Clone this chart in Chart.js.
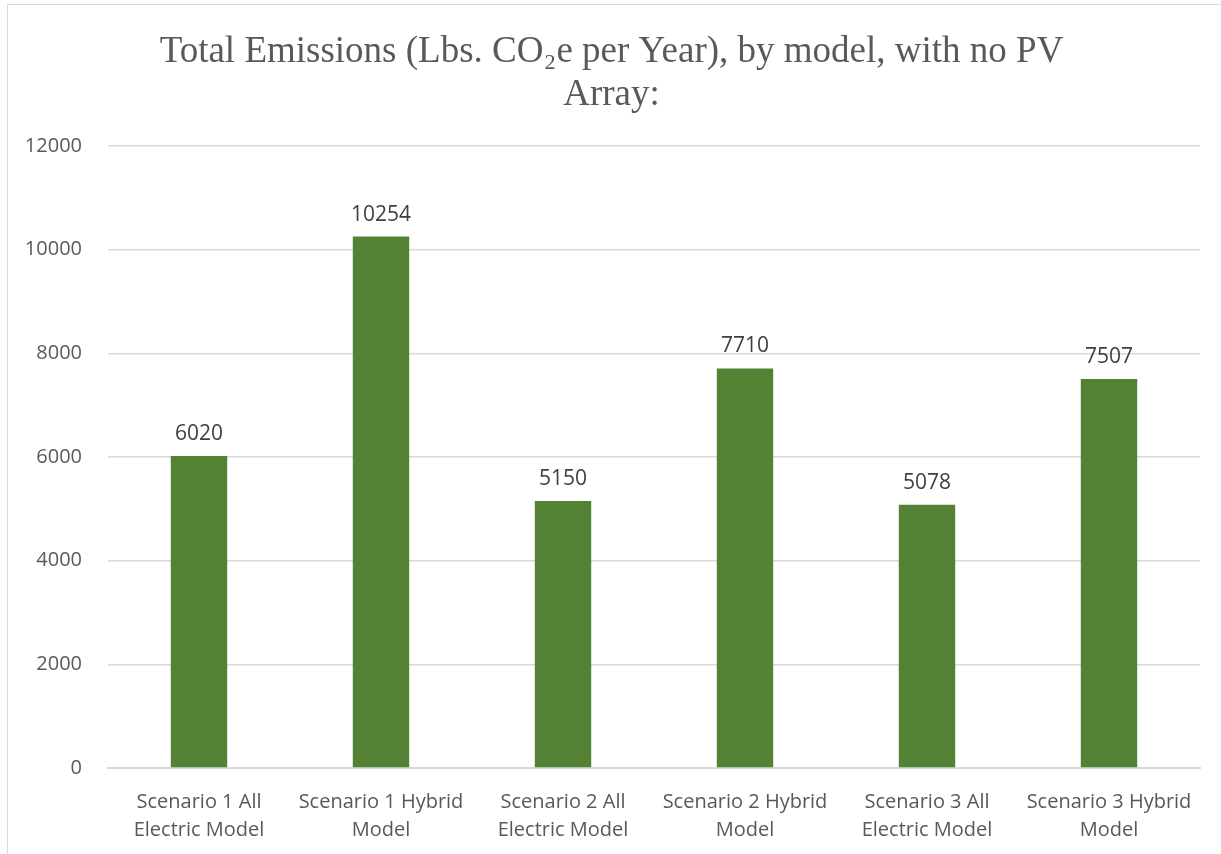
<!DOCTYPE html>
<html>
<head>
<meta charset="utf-8">
<script src="https://cdn.jsdelivr.net/npm/chart.js@4/dist/chart.umd.min.js"></script>
<style>
  html, body { margin: 0; padding: 0; background: #fff; overflow: hidden; }
  #frame { position: absolute; left: 7px; top: 4px; width: 1220px; height: 860px; border: 1px solid #d9d9d9; box-sizing: border-box; }
  canvas { position: absolute; left: 0; top: 0; }
</style>
</head>
<body>
<div id="frame"></div>
<canvas id="chart" width="1221" height="854"></canvas>
<script>
const titleLines = ['Total Emissions (Lbs. CO\u2082e per Year), by model, with no PV', 'Array:']
const categories = [
  ['Scenario 1 All', 'Electric Model'],
  ['Scenario 1 Hybrid', 'Model'],
  ['Scenario 2 All', 'Electric Model'],
  ['Scenario 2 Hybrid', 'Model'],
  ['Scenario 3 All', 'Electric Model'],
  ['Scenario 3 Hybrid', 'Model']
]
const emissions = [6020, 10254, 5150, 7710, 5078, 7507]

// value labels above each bar
const barLabels = {
  id: 'barLabels',
  afterDatasetsDraw(chart) {
    const ctx = chart.ctx
    const meta = chart.getDatasetMeta(0)
    ctx.save()
    ctx.font = '21px "Open Sans", sans-serif'
    ctx.fillStyle = '#404040'
    ctx.textAlign = 'center'
    ctx.textBaseline = 'middle'
    meta.data.forEach((bar, i) => {
      ctx.fillText(String(emissions[i]), bar.x, bar.y - 22)
    })
    ctx.restore()
  }
}

new Chart(document.getElementById('chart').getContext('2d'), {
  type: 'bar',
  data: {
    labels: categories,
    datasets: [
      {
        label: 'Total Emissions',
        data: emissions,
        backgroundColor: '#548235',
        categoryPercentage: 1,
        barPercentage: 0.31
      }
    ]
  },
  options: {
    responsive: false,
    animation: false,
    layout: { padding: { left: 23, right: 21, top: 0, bottom: 0 } },
    plugins: {
      legend: { display: false },
      tooltip: { enabled: false },
      title: {
        display: true,
        text: titleLines,
        color: '#595959',
        font: { family: '"Liberation Serif", "Times New Roman", serif', size: 37, weight: 'normal', lineHeight: 1.15 },
        padding: { top: 31, bottom: 30 }
      }
    },
    scales: {
      x: {
        grid: { display: false },
        border: { color: '#d9d9d9', width: 2 },
        afterFit: (scale) => { scale.height = 86 },
        ticks: {
          color: '#595959',
          font: { family: '"Open Sans", sans-serif', size: 20, lineHeight: 1.4 },
          maxRotation: 0,
          padding: 12
        }
      },
      y: {
        min: 0,
        max: 12000,
        grid: { color: '#d9d9d9', lineWidth: 1.5, drawTicks: false },
        border: { display: false },
        afterFit: (scale) => { scale.width = 85 },
        ticks: {
          stepSize: 2000,
          color: '#595959',
          font: { family: '"Open Sans", sans-serif', size: 20 },
          padding: 26,
          callback: (v) => String(v)
        }
      }
    }
  },
  plugins: [barLabels]
})
</script>
</body>
</html>
